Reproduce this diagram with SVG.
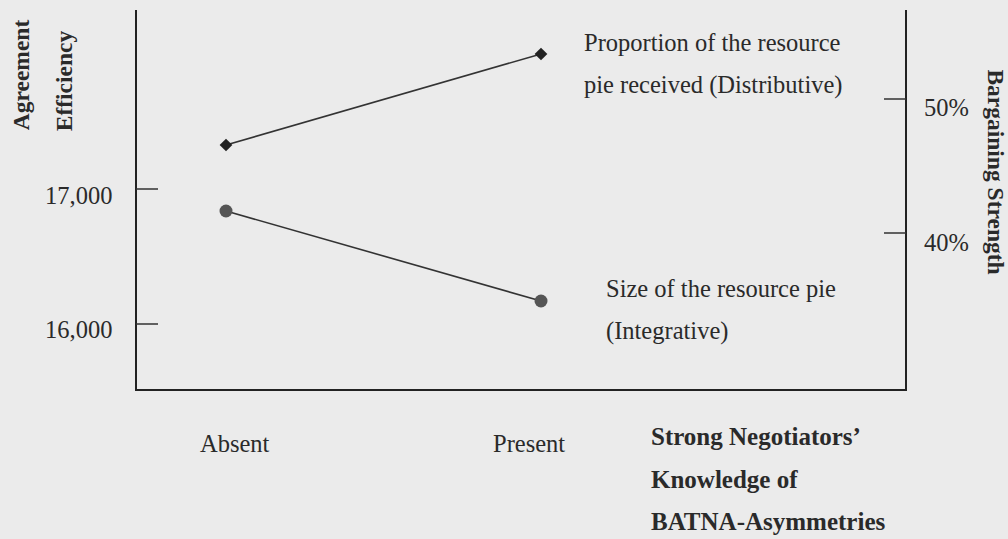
<svg xmlns="http://www.w3.org/2000/svg" width="1008" height="539" viewBox="0 0 1008 539">
<style>
text{font-family:"Liberation Serif","Times New Roman",serif;fill:#2a2a2a;font-size:24.5px}
.b{font-weight:bold;font-size:25px}
.v{font-weight:bold;font-size:23.5px}
.ax{stroke:#222;stroke-width:2;fill:none}
.tk{stroke:#333;stroke-width:1.6;fill:none}
.ln{stroke:#333;stroke-width:1.6;fill:none}
</style>
<rect width="1008" height="539" fill="#ebebeb"/>
<g id="axes">
<path class="ax" d="M136,10 V390 H906 V10"/>
<path class="tk" d="M136,189 H158 M136,324 H158 M884,99 H906 M884,233 H906"/>
</g>
<g id="connectors">
<line class="ln" x1="226" y1="145" x2="541" y2="54"/>
<line class="ln" x1="226" y1="211" x2="541" y2="301" stroke="#555"/>
</g>
<g id="distributive-absent"><rect x="221.5" y="140.5" width="9" height="9" fill="#222" transform="rotate(45 226 145)"/></g>
<g id="distributive-present"><rect x="536.5" y="49.5" width="9" height="9" fill="#222" transform="rotate(45 541 54)"/></g>
<g id="integrative-absent"><circle cx="226" cy="211" r="6.5" fill="#555"/></g>
<g id="integrative-present"><circle cx="541" cy="301" r="6.5" fill="#555"/></g>
<g id="labels">
<text class="v" transform="translate(29,75) rotate(-90)" text-anchor="middle">Agreement</text>
<text class="v" transform="translate(72,81) rotate(-90)" text-anchor="middle">Efficiency</text>
<text class="v" transform="translate(988,172) rotate(90)" text-anchor="middle">Bargaining Strength</text>
<text x="45" y="204">17,000</text>
<text x="45" y="338">16,000</text>
<text x="924" y="116">50%</text>
<text x="924" y="251">40%</text>
<text x="584" y="51">Proportion of the resource</text>
<text x="584" y="93">pie received (Distributive)</text>
<text x="606" y="297">Size of the resource pie</text>
<text x="606" y="339">(Integrative)</text>
<text x="200" y="452">Absent</text>
<text x="493" y="452">Present</text>
<text class="b" x="651" y="445">Strong Negotiators’</text>
<text class="b" x="651" y="488">Knowledge of</text>
<text class="b" x="651" y="530">BATNA-Asymmetries</text>
</g>
</svg>
